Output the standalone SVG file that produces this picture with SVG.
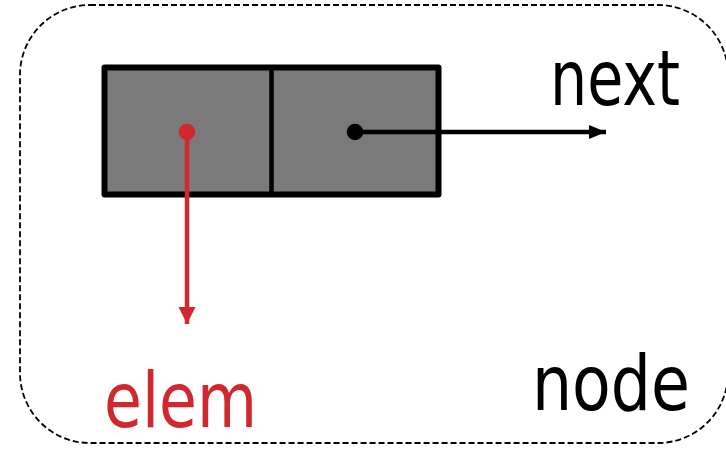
<svg xmlns="http://www.w3.org/2000/svg" width="726" height="452" viewBox="0 0 726 452">
<style>
.lbl{font-family:"DejaVu Sans","Verdana",sans-serif;font-size:76px}
.cell{fill:#7a7a7a;stroke:#000;stroke-width:6;stroke-linejoin:round}
</style>
<defs>
<marker id="ab" markerUnits="userSpaceOnUse" markerWidth="20" markerHeight="18" refX="17" refY="9" orient="auto"><path d="M0,2 L17,9 L0,16 Z" fill="#000"/></marker>
<marker id="ar" markerUnits="userSpaceOnUse" markerWidth="20" markerHeight="20" refX="17" refY="10" orient="auto"><path d="M0,1.5 L17,10 L0,18.5 Z" fill="#d0282e"/></marker>
</defs>
<g id="container">
<rect x="20" y="5" width="708" height="438" rx="70" ry="70" fill="#fff" stroke="#000" stroke-width="1.8" stroke-dasharray="6,3"/>
<text class="lbl" x="532" y="410" textLength="158" lengthAdjust="spacingAndGlyphs">node</text>
</g>
<g id="node">
<rect class="cell" x="104.5" y="67.5" width="334" height="127"/>
<line x1="271.5" y1="67.5" x2="271.5" y2="194.5" stroke="#000" stroke-width="4.5"/>
</g>
<g id="connectors">
<line x1="187" y1="132" x2="187" y2="324" stroke="#d0282e" stroke-width="4.5" marker-end="url(#ar)"/>
<circle cx="187" cy="132" r="8.3" fill="#d0282e"/>
<line x1="355" y1="132" x2="606" y2="132" stroke="#000" stroke-width="4.5" marker-end="url(#ab)"/>
<circle cx="355" cy="132" r="8.3" fill="#000"/>
</g>
<g id="next-label"><text class="lbl" x="550" y="105" textLength="130" lengthAdjust="spacingAndGlyphs">next</text></g>
<g id="elem-label"><text class="lbl" x="104" y="427" fill="#d0282e" textLength="153" lengthAdjust="spacingAndGlyphs">elem</text></g>
</svg>
